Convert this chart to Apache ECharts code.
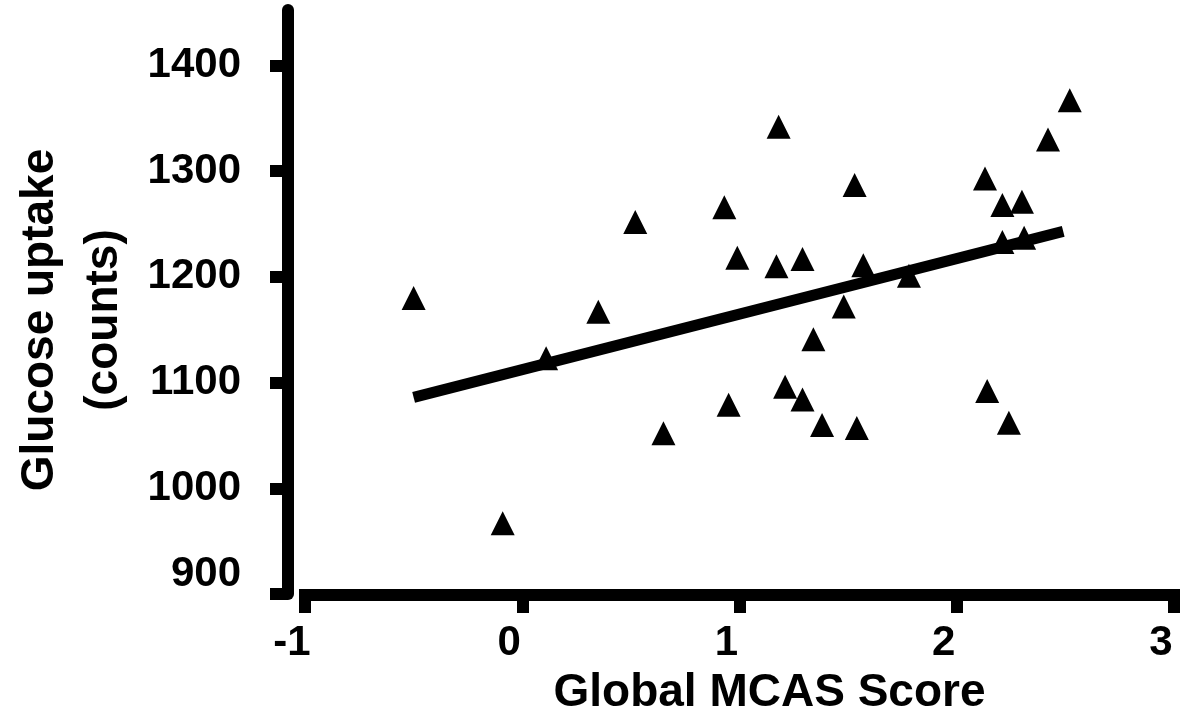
<!DOCTYPE html>
<html>
<head>
<meta charset="utf-8">
<script src="https://cdn.jsdelivr.net/npm/echarts@6/dist/echarts.min.js"></script>
<style>
    html, body { margin: 0; background: #fff; }
    #chart { width: 1186px; height: 724px; }
</style>
</head>
<body>
<div id="chart"></div>
<script>
// values
const mcas = [-0.50, -0.09, 0.11, 0.35, 0.52, 0.65, 0.93, 0.99, 0.95, 1.18,
    1.17, 1.29, 1.21, 1.29, 1.34, 1.38, 1.48, 1.53, 1.54, 1.57,
    1.78, 2.13, 2.14, 2.21, 2.21, 2.30, 2.31, 2.24, 2.42, 2.52];
const glucose = [1180, 967, 1123, 1167, 1252, 1052, 1266, 1218, 1079, 1342,
    1210, 1217, 1096, 1084, 1141, 1060, 1172, 1287, 1057, 1211,
    1201, 1293, 1092, 1268, 1233, 1271, 1237, 1062, 1330, 1367];
// regression line end points
const fitX = [-0.50, 2.49];
const fitY = [1086, 1243];
const xTicks = [-1, 0, 1, 2, 3];
const yTicks = [900, 1000, 1100, 1200, 1300, 1400];

const FONT = '"Liberation Sans", Arial, sans-serif';

const chart = echarts.init(document.getElementById('chart'));

chart.setOption({
    animation: false,
    backgroundColor: '#fff',
    grid: { left: 299, right: 12, top: 10, bottom: 130 },
    xAxis: {
        type: 'value',
        min: xTicks[0],
        max: xTicks[xTicks.length - 1],
        interval: 1,
        offset: 1,
        name: 'Global MCAS Score',
        nameLocation: 'middle',
        nameGap: 75,
        nameTextStyle: { fontFamily: FONT, fontWeight: 'bold', fontSize: 46, color: '#000', padding: [0, 0, 0, 60] },
        axisLine: { onZero: false, lineStyle: { color: '#000', width: 12, cap: 'square' } },
        axisTick: { length: 18, lineStyle: { color: '#000', width: 12 } },
        axisLabel: { margin: 27, fontFamily: FONT, fontWeight: 'bold', fontSize: 42, color: '#000', padding: [0, 26, 0, 0] },
        splitLine: { show: false }
    },
    yAxis: {
        type: 'value',
        min: yTicks[0],
        max: 1452.5,
        interval: 100,
        offset: 17,
        name: 'Glucose uptake\n(counts)',
        nameLocation: 'middle',
        nameGap: 152,
        nameTextStyle: { fontFamily: FONT, fontWeight: 'bold', fontSize: 46, lineHeight: 64, color: '#000', padding: [0, 36, 0, 0] },
        axisLine: { onZero: false, lineStyle: { color: '#000', width: 12 } },
        axisTick: { length: 18, customValues: yTicks, lineStyle: { color: '#000', width: 12 } },
        axisLabel: {
            customValues: yTicks,
            margin: 47,
            fontFamily: FONT, fontWeight: 'bold', fontSize: 42, color: '#000',
            formatter: v => v === yTicks[0] ? '{low|' + v + '}' : String(v),
            rich: { low: { fontFamily: FONT, fontWeight: 'bold', fontSize: 42, color: '#000', padding: [0, 0, 40, 0] } }
        },
        splitLine: { show: false }
    },
    series: [
        {
            type: 'line',
            data: fitX.map((x, i) => [x, fitY[i]]),
            showSymbol: false,
            symbol: 'none',
            lineStyle: { color: '#000', width: 11, opacity: 1 },
            z: 2
        },
        {
            type: 'scatter',
            data: mcas.map((x, i) => [x, glucose[i]]),
            symbol: 'triangle',
            symbolSize: [24, 24],
            itemStyle: { color: '#000', opacity: 1 },
            z: 3
        }
    ]
});
</script>
</body>
</html>
